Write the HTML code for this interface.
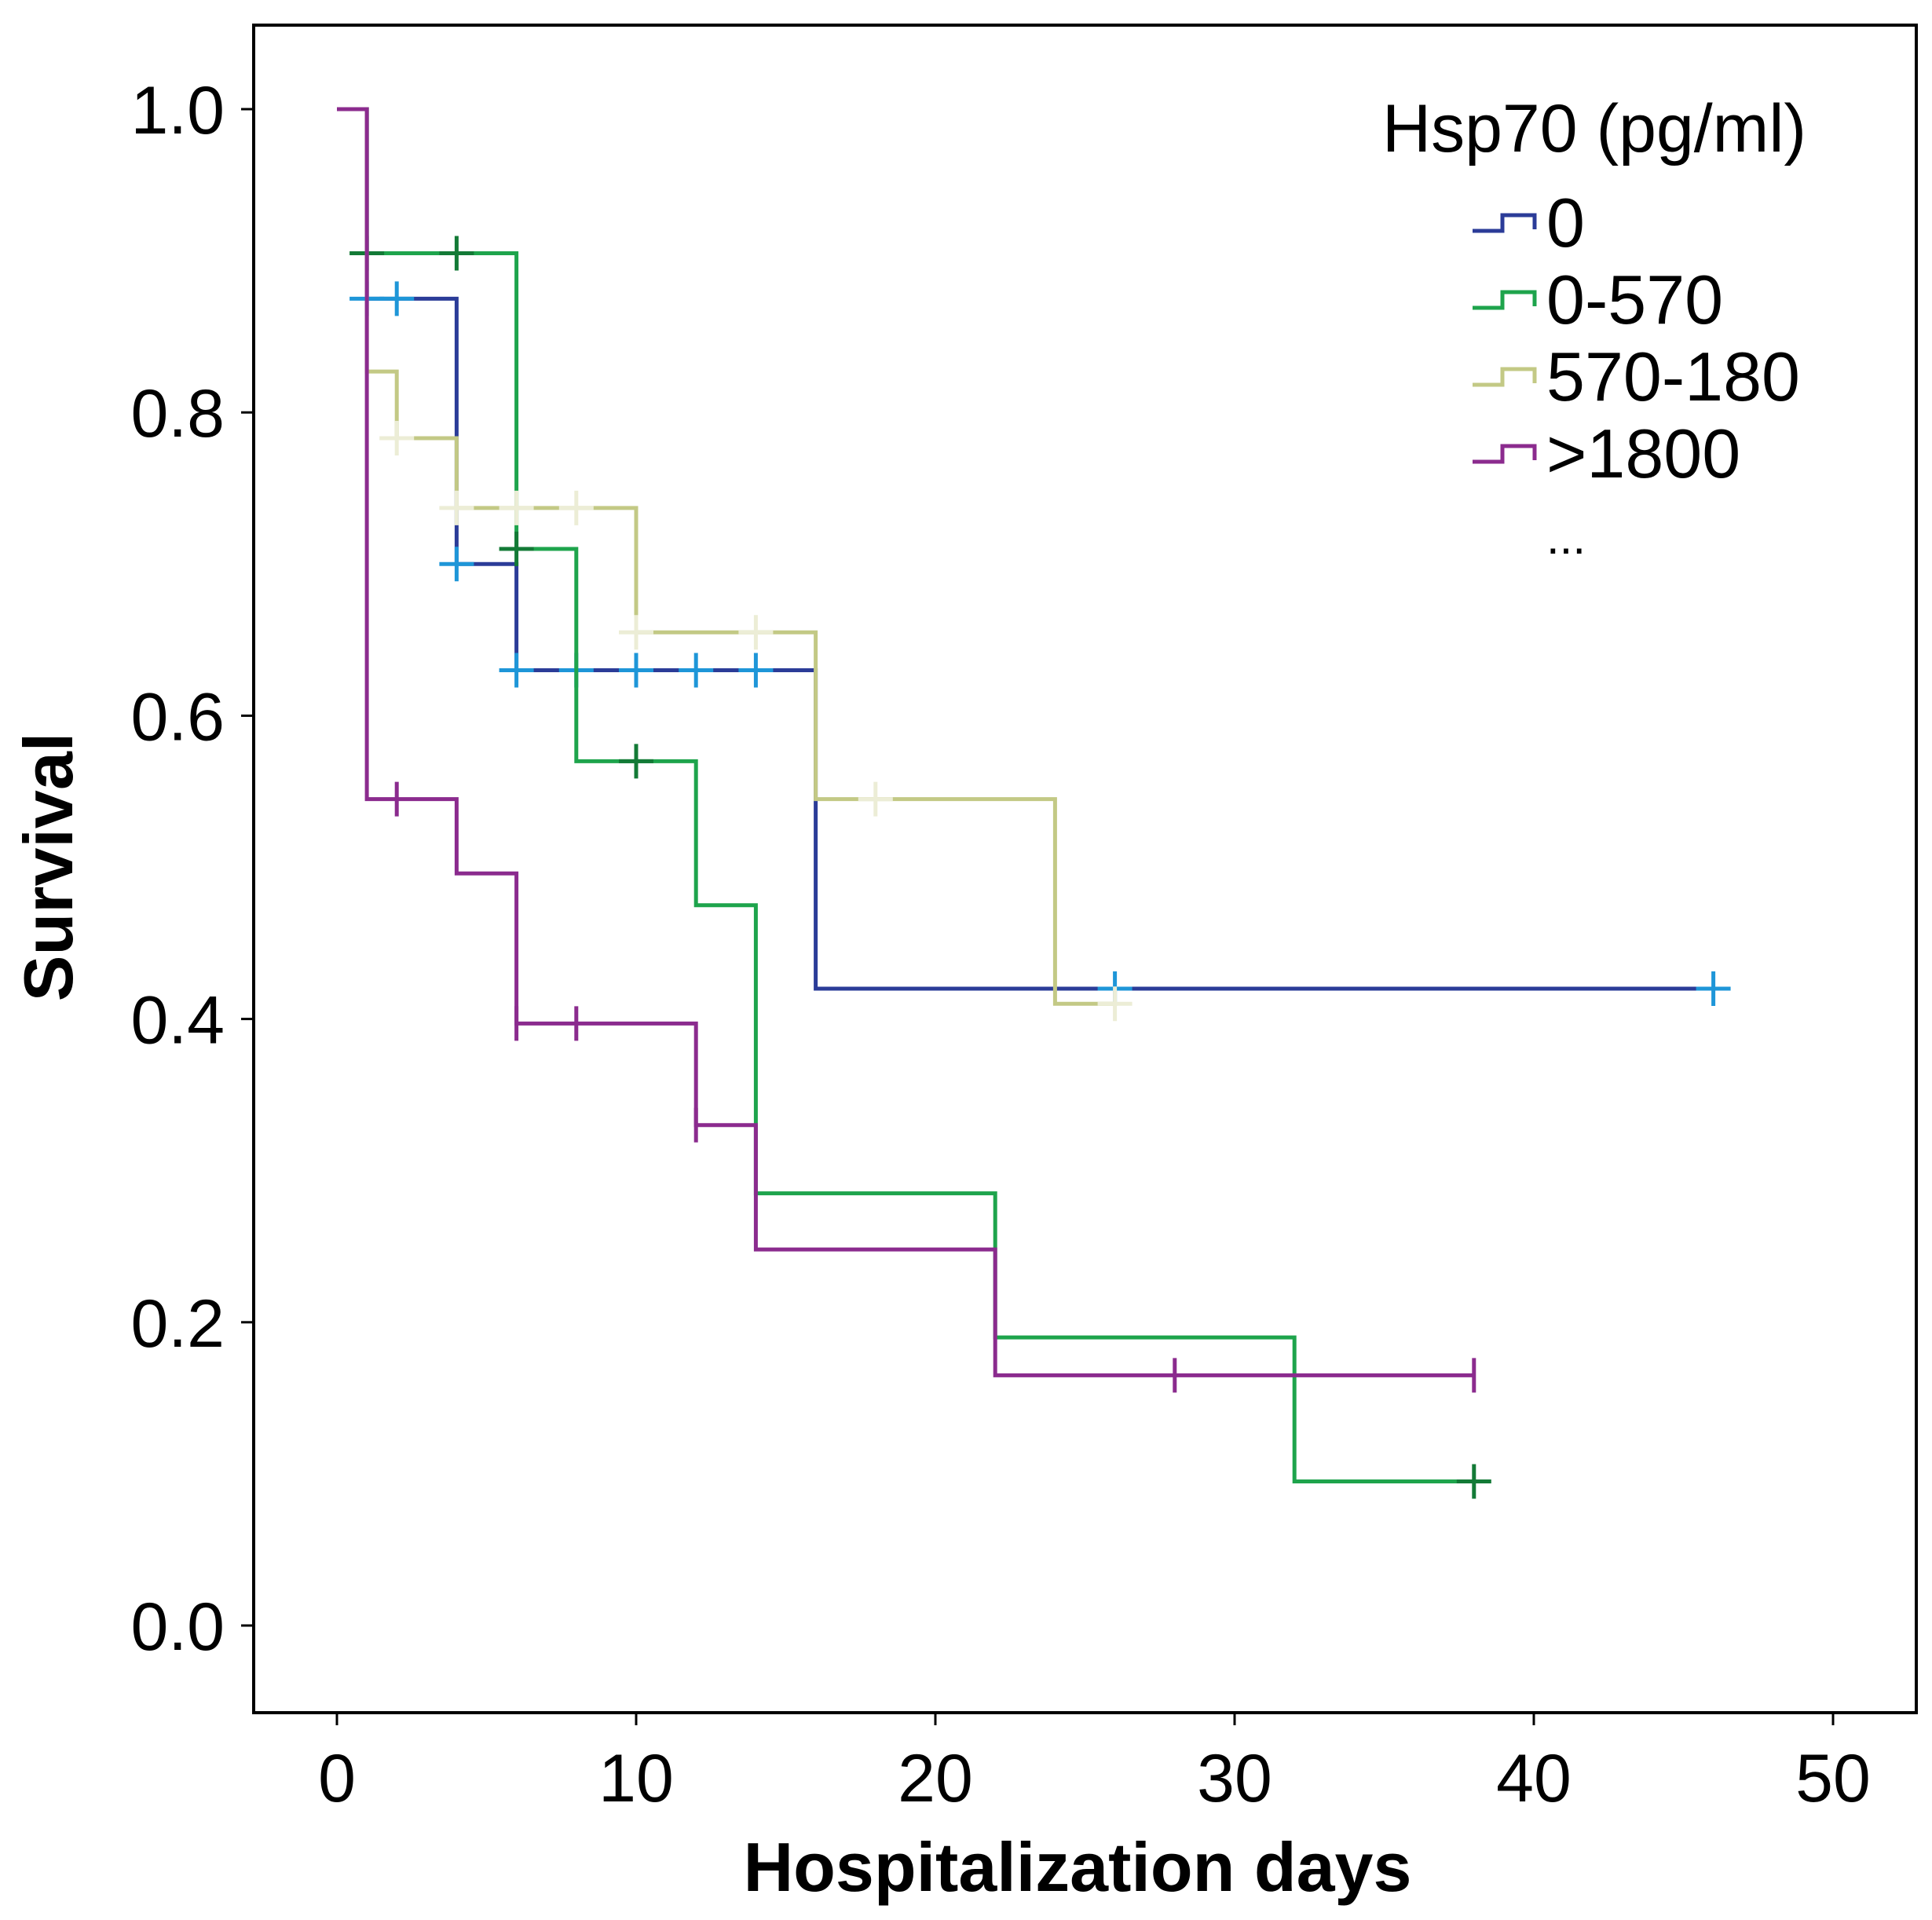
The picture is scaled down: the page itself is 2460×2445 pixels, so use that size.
<!DOCTYPE html>
<html><head><meta charset="utf-8"><style>
html,body{margin:0;padding:0;background:#fff;}
svg{display:block;font-family:"Liberation Sans",sans-serif;}
</style></head><body>
<svg id="chart" width="2460" height="2445" viewBox="0 0 2460 2445">
<rect x="323" y="32" width="2117" height="2149" fill="none" stroke="#000" stroke-width="4"/>
<g id="axes"></g>
<g id="series"></g>
<text x="1372" y="2408" font-size="88" font-weight="bold" text-anchor="middle">Hospitalization days</text>
<text transform="translate(92,1104) rotate(-90)" font-size="88" font-weight="bold" text-anchor="middle">Survival</text>
<g>
<text x="1760" y="193" font-size="86">Hsp70 (pg/ml)</text>
<g id="legend-items"></g>
<text x="1969" y="705" font-size="60">...</text>
</g>
</svg>
<script>
const xTicks = [0, 10, 20, 30, 40, 50];
const yTicks = [0.0, 0.2, 0.4, 0.6, 0.8, 1.0];
const seriesNames = ["0", "0-570", "570-180", ">1800"];
const blueTimes = [1, 4, 6, 16];
const blueSurv = [0.875, 0.70, 0.63, 0.42];
const blueCensor = [1, 2, 4, 6, 8, 10, 12, 14, 26, 46];
const greenTimes = [1, 6, 8, 12, 14, 22, 32];
const greenSurv = [0.905, 0.71, 0.57, 0.475, 0.285, 0.19, 0.095];
const greenCensor = [1, 4, 6, 10, 38];
const oliveTimes = [1, 2, 4, 10, 16, 24];
const oliveSurv = [0.827, 0.783, 0.737, 0.655, 0.545, 0.41];
const oliveCensor = [2, 4, 6, 8, 10, 14, 18, 26];
const purpleTimes = [1, 4, 6, 12, 14, 22];
const purpleSurv = [0.545, 0.496, 0.397, 0.33, 0.248, 0.165];
const purpleCensor = [2, 6, 8, 12, 28, 38];

const NS = "http://www.w3.org/2000/svg";
const X = d => 429 + (d / 50) * (2334 - 429);
const Y = v => 2070 - v * (2070 - 139);
function mk(tag, attrs, parent) { const e = document.createElementNS(NS, tag); for (const k in attrs) e.setAttribute(k, attrs[k]); parent.appendChild(e); return e; }
const axes = document.getElementById('axes');
xTicks.forEach(t => {
  const l = mk('line', {x1: X(t), x2: X(t), y1: 2181, y2: 2197, stroke: '#000', 'stroke-width': 3}, axes);
  
  
  const tx = mk('text', {x: X(t), y: 2294, 'font-size': 86, 'text-anchor': 'middle'}, axes);
  tx.textContent = t;
  
  
});
yTicks.forEach(t => {
  const l = mk('line', {x1: 307, x2: 323, y1: Y(t), y2: Y(t), stroke: '#000', 'stroke-width': 3}, axes);
  
  
  const tx = mk('text', {x: 286, y: Y(t) + 31, 'font-size': 86, 'text-anchor': 'end'}, axes);
  tx.textContent = t.toFixed(1);
  
  
});
function survAt(times, surv, t) { let s = 1; for (let i = 0; i < times.length; i++) if (times[i] <= t) s = surv[i]; return s; }
const sg = document.getElementById('series');
function drawSeries(name, times, surv, censor, color, cColor, cross) {
  const g = mk('g', {}, sg);
  
  
  let d = 'M' + X(0) + ',' + Y(1);
  for (let i = 0; i < times.length; i++) { d += ' H' + X(times[i]) + ' V' + Y(surv[i]); }
  d += ' H' + X(Math.max(...censor, times[times.length - 1]));
  const p = mk('path', {d: d, fill: 'none', stroke: color, 'stroke-width': 5}, g);
  
  
  censor.forEach(c => {
    const y = Y(survAt(times, surv, c)), x = X(c);
    const v = mk('line', {x1: x, x2: x, y1: y - 22, y2: y + 22, stroke: cColor, 'stroke-width': 5}, g);
    
    
    if (cross) {
      const h = mk('line', {x1: x - 22, x2: x + 22, y1: y, y2: y, stroke: cColor, 'stroke-width': 5}, g);
      
      
    }
  });
}
drawSeries('0', blueTimes, blueSurv, blueCensor, '#2b3c98', '#1e96d8', true);
drawSeries('0-570', greenTimes, greenSurv, greenCensor, '#1ea44c', '#137a36', true);
drawSeries('570-180', oliveTimes, oliveSurv, oliveCensor, '#c3c985', '#ecedd6', true);
drawSeries('gt1800', purpleTimes, purpleSurv, purpleCensor, '#8b2b8e', '#8b2b8e', false);
const colors = ['#2b3c98', '#1ea44c', '#c3c985', '#8b2b8e'];
const li = document.getElementById('legend-items');
seriesNames.forEach((n, i) => {
  const base = 314 + i * 98;
  const g = mk('g', {}, li);
  
  
  mk('path', {d: `M1875,${base - 20} H1913 V${base - 40} H1954 V${base - 22}`, fill: 'none', stroke: colors[i], 'stroke-width': 5}, g);
  const t = mk('text', {x: 1969, y: base, 'font-size': 88}, g);
  t.textContent = n;
});
</script>
</body></html>
